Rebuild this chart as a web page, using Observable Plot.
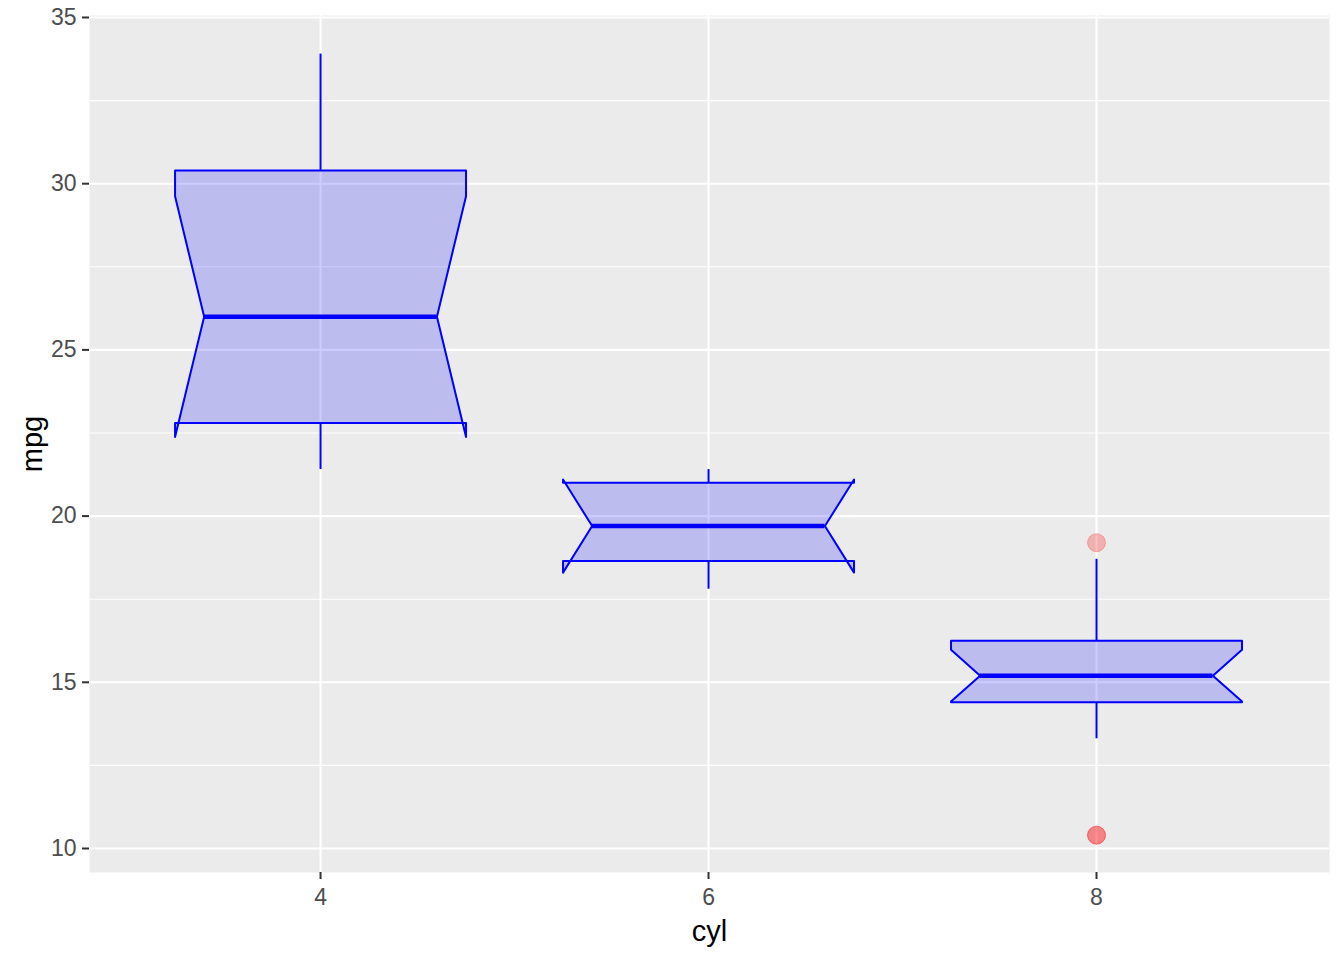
<!DOCTYPE html>
<html>
<head>
<meta charset="utf-8">
<script src="https://cdn.jsdelivr.net/npm/d3@7"></script>
<script src="https://cdn.jsdelivr.net/npm/@observablehq/plot@0.6"></script>
<style>
  html, body { margin: 0; padding: 0; background: #ffffff; }
  svg { display: block; }
</style>
</head>
<body>
<div id="chart"></div>
<script>
// Summary statistics of mpg by cyl
const cyl         = [4, 6, 8];
const whiskerLow  = [21.4, 17.8, 13.3];
const q1          = [22.8, 18.65, 14.4];
const median      = [26.0, 19.7, 15.2];
const q3          = [30.4, 21.0, 16.25];
const whiskerHigh = [33.9, 21.4, 18.7];
const notchLow    = [22.38, 18.30, 14.42];
const notchHigh   = [29.62, 21.10, 15.98];
const outlierCyl  = [8, 8, 8];
const outlierMpg  = [10.4, 10.4, 19.2];
const yTicks      = [10, 15, 20, 25, 30, 35];
const yMinorTicks = [12.5, 17.5, 22.5, 27.5, 32.5];
const xTicks      = [4, 6, 8];

const halfWidth = 0.75;      // box half-width in x units
const notchIndent = 0.15;    // notch indent in x units

const boxes = cyl.map((c, i) => ({
  cyl: c, lo: whiskerLow[i], q1: q1[i], med: median[i], q3: q3[i],
  hi: whiskerHigh[i], nlo: notchLow[i], nhi: notchHigh[i]
}));

const poly = boxes.flatMap(b => {
  const xl = b.cyl - halfWidth, xr = b.cyl + halfWidth;
  return [
    [xl, b.q3], [xl, b.nhi], [xl + notchIndent, b.med], [xl, b.nlo], [xl, b.q1],
    [xr, b.q1], [xr, b.nlo], [xr - notchIndent, b.med], [xr, b.nhi], [xr, b.q3],
    [xl, b.q3]
  ].map(([x, y]) => ({cyl: b.cyl, x, y}));
});

const outliers = outlierCyl.map((c, i) => ({cyl: c, mpg: outlierMpg[i]}));

const font = "'Liberation Sans', Arial, sans-serif";

const chart = Plot.plot({
  width: 1344,
  height: 960,
  marginLeft: 89,
  marginRight: 15,
  marginTop: 15,
  marginBottom: 88,
  style: {fontFamily: font, background: "#ffffff"},
  x: {type: "linear", domain: [2.809, 9.201]},
  y: {type: "linear", domain: [9.278, 35.06]},
  marks: [
    Plot.frame({fill: "#EBEBEB", stroke: "none"}),
    Plot.gridY(yMinorTicks, {stroke: "#ffffff", strokeOpacity: 1, strokeWidth: 1.1}),
    Plot.gridY(yTicks, {stroke: "#ffffff", strokeOpacity: 1, strokeWidth: 2.1}),
    Plot.gridX(xTicks, {stroke: "#ffffff", strokeOpacity: 1, strokeWidth: 2.1}),
    Plot.dot(outliers, {x: "cyl", y: "mpg", r: 9, fill: "red", fillOpacity: 0.25,
      stroke: "red", strokeOpacity: 0.25, strokeWidth: 1}),
    Plot.ruleX(boxes, {x: "cyl", y1: "q3", y2: "hi", stroke: "blue", strokeWidth: 2}),
    Plot.ruleX(boxes, {x: "cyl", y1: "lo", y2: "q1", stroke: "blue", strokeWidth: 2}),
    Plot.line(poly, {x: "x", y: "y", z: "cyl", fill: "blue", fillOpacity: 0.2,
      stroke: "blue", strokeWidth: 2, curve: "linear", strokeLinejoin: "round"}),
    Plot.ruleY(boxes, {y: "med", x1: d => d.cyl - halfWidth + notchIndent,
      x2: d => d.cyl + halfWidth - notchIndent, stroke: "blue", strokeWidth: 4.5}),
    Plot.axisY(yTicks, {tickSize: 7, tickPadding: 6, fontSize: 23, stroke: "#333333",
      strokeWidth: 2, fill: "#4D4D4D", label: null, tickFormat: "d"}),
    Plot.axisX(xTicks, {tickSize: 7, tickPadding: 9, fontSize: 23, stroke: "#333333",
      strokeWidth: 2, fill: "#4D4D4D", label: null, tickFormat: "d"}),
    Plot.text(["mpg"], {frameAnchor: "left", dx: -57, rotate: -90, fontSize: 29,
      fill: "#000000", textAnchor: "middle", lineAnchor: "middle"}),
    Plot.text(["cyl"], {frameAnchor: "bottom", dy: 59, fontSize: 29,
      fill: "#000000", textAnchor: "middle", lineAnchor: "middle"})
  ]
});

document.getElementById("chart").appendChild(chart);
</script>
</body>
</html>
